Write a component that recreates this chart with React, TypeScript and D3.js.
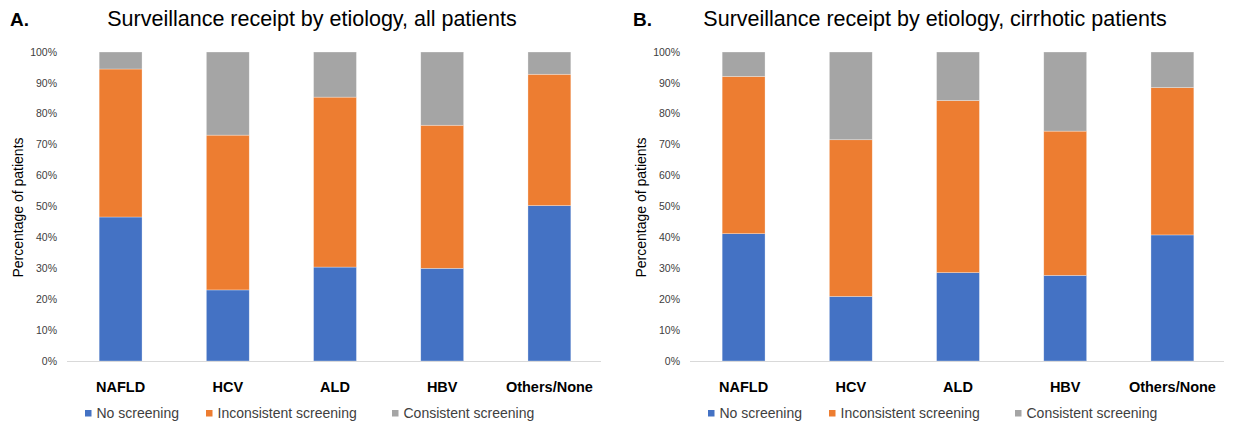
import { useEffect, useRef } from "react";
import * as d3 from "d3";

const categories = ["NAFLD", "HCV", "ALD", "HBV", "Others/None"];
const seriesNames = ["No screening", "Inconsistent screening", "Consistent screening"];
const seriesColors = ["#4472C4", "#ED7D31", "#A5A5A5"];
const yTicks = [0, 10, 20, 30, 40, 50, 60, 70, 80, 90, 100];

// panel A: all patients (percent)
const allNoScreening = [46.6, 23.0, 30.4, 30.0, 50.3];
const allInconsistent = [47.9, 50.1, 55.0, 46.3, 42.5];
const allConsistent = [5.5, 26.9, 14.6, 23.7, 7.2];

// panel B: cirrhotic patients (percent)
const cirNoScreening = [41.2, 20.9, 28.6, 27.7, 40.8];
const cirInconsistent = [50.9, 50.7, 55.7, 46.7, 47.7];
const cirConsistent = [7.9, 28.4, 15.7, 25.6, 11.5];

const panels = [
  {
    letter: "A.",
    title: "Surveillance receipt by etiology, all patients",
    series: [allNoScreening, allInconsistent, allConsistent],
    x0: 0,
  },
  {
    letter: "B.",
    title: "Surveillance receipt by etiology, cirrhotic patients",
    series: [cirNoScreening, cirInconsistent, cirConsistent],
    x0: 623,
  },
];

const FONT = "'Liberation Sans', Arial, sans-serif";

export default function App() {
  const ref = useRef<SVGSVGElement>(null);

  useEffect(() => {
    const width = 1240;
    const height = 430;
    const svg = d3.select(ref.current);
    svg.selectAll("*").remove();
    svg.attr("width", width).attr("height", height).attr("viewBox", `0 0 ${width} ${height}`);
    svg.append("rect").attr("width", width).attr("height", height).attr("fill", "#fff");

    panels.forEach((p) => {
      const g = svg.append("g").attr("transform", `translate(${p.x0},0)`);
      const left = 67;
      const right = 603;
      const top = 52;
      const bottom = 361;

      const x = d3.scaleBand().domain(categories).range([left, right]).paddingInner(0.6).paddingOuter(0.3);
      const y = d3.scaleLinear().domain([0, 100]).range([bottom, top]);

      const rows = categories.map((c, i) => {
        const r: any = { cat: c };
        seriesNames.forEach((s, k) => (r[s] = p.series[k][i]));
        return r;
      });
      const stacked = d3.stack().keys(seriesNames)(rows);

      g.append("text")
        .attr("x", 10)
        .attr("y", 26)
        .attr("font-family", FONT)
        .attr("font-weight", "bold")
        .attr("font-size", 19)
        .attr("fill", "#000")
        .text(p.letter);

      g.append("text")
        .attr("x", 312)
        .attr("y", 26)
        .attr("text-anchor", "middle")
        .attr("font-family", FONT)
        .attr("font-size", 21.5)
        .attr("fill", "#000")
        .text(p.title);

      // y ticks
      g.append("g")
        .selectAll("text")
        .data(yTicks)
        .join("text")
        .attr("x", 57)
        .attr("y", (d) => y(d))
        .attr("dy", "0.35em")
        .attr("text-anchor", "end")
        .attr("font-family", FONT)
        .attr("font-size", 10.5)
        .attr("fill", "#404040")
        .text((d) => `${d}%`);

      g.append("text")
        .attr("transform", `translate(23,${(top + bottom) / 2 + 1}) rotate(-90)`)
        .attr("text-anchor", "middle")
        .attr("font-family", FONT)
        .attr("font-size", 14)
        .attr("fill", "#000")
        .text("Percentage of patients");

      g.append("g")
        .selectAll("g")
        .data(stacked)
        .join("g")
        .attr("fill", (_, i) => seriesColors[i])
        .selectAll("rect")
        .data((d) => d)
        .join("rect")
        .attr("x", (d: any) => x(d.data.cat)!)
        .attr("width", x.bandwidth())
        .attr("y", (d) => y(d[1]))
        .attr("height", (d) => y(d[0]) - y(d[1]))
        .attr("stroke", "#fff")
        .attr("stroke-opacity", 0.5)
        .attr("stroke-width", 0.6);

      g.append("line")
        .attr("x1", left)
        .attr("x2", right - 2)
        .attr("y1", bottom + 0.5)
        .attr("y2", bottom + 0.5)
        .attr("stroke", "#d9d9d9");

      g.append("g")
        .selectAll("text")
        .data(categories)
        .join("text")
        .attr("x", (d) => x(d)! + x.bandwidth() / 2)
        .attr("y", 391.5)
        .attr("text-anchor", "middle")
        .attr("font-family", FONT)
        .attr("font-weight", "bold")
        .attr("font-size", 14.5)
        .attr("fill", "#000")
        .text((d) => d);

      // legend
      const legendX = [85, 206, 392];
      const lg = g.append("g");
      seriesNames.forEach((s, i) => {
        lg.append("rect")
          .attr("x", legendX[i])
          .attr("y", 410)
          .attr("width", 6.5)
          .attr("height", 6.5)
          .attr("fill", seriesColors[i]);
        lg.append("text")
          .attr("x", legendX[i] + 11.5)
          .attr("y", 417.5)
          .attr("font-family", FONT)
          .attr("font-size", 14)
          .attr("fill", "#404040")
          .text(s);
      });
    });
  }, []);

  return (
    <div style={{ position: "absolute", left: 0, top: 0 }}>
      <svg ref={ref} style={{ display: "block" }} />
    </div>
  );
}
